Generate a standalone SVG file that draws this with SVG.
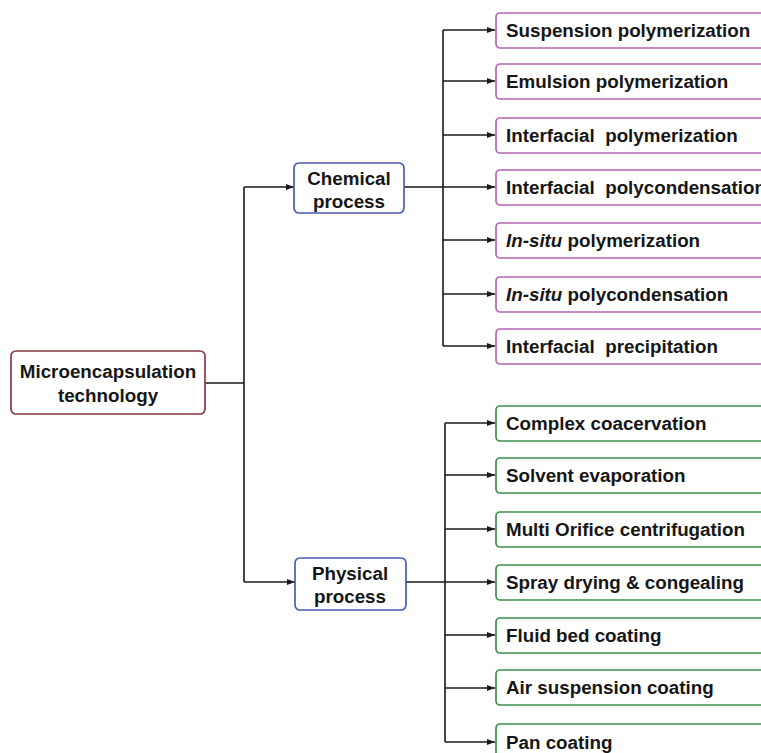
<svg xmlns="http://www.w3.org/2000/svg" width="761" height="753" viewBox="0 0 761 753">
<style>
text{font-family:"Liberation Sans",Arial,sans-serif;font-weight:bold;font-size:18.8px;fill:#161616;white-space:pre}
.c{text-anchor:middle}
.root{fill:#fff;stroke:#8a3a44;stroke-width:1.7}
.proc{fill:#fff;stroke:#4a5cb4;stroke-width:1.7}
.chem{fill:#fff;stroke:#b466b4;stroke-width:1.7}
.phys{fill:#fff;stroke:#3e8e4e;stroke-width:1.7}
.ln{fill:none;stroke:#1a1a1a;stroke-width:1.6}
</style>
<defs>
<marker id="ah" markerWidth="8" markerHeight="6" refX="8" refY="3" orient="auto" markerUnits="userSpaceOnUse">
<path d="M0,0 L8,3 L0,6 Z" fill="#1a1a1a"/>
</marker>
</defs>
<rect width="761" height="753" fill="#fff"/>
<g id="connectors">
<path class="ln" d="M205,383 H244 M244,187 V582"/>
<path class="ln" d="M244,187 H294" marker-end="url(#ah)"/>
<path class="ln" d="M244,582 H295" marker-end="url(#ah)"/>
<path class="ln" d="M404,187 H443 M443,30 V346"/>
<path class="ln" d="M443,30 H495" marker-end="url(#ah)"/>
<path class="ln" d="M443,81 H495" marker-end="url(#ah)"/>
<path class="ln" d="M443,135 H495" marker-end="url(#ah)"/>
<path class="ln" d="M443,187 H495" marker-end="url(#ah)"/>
<path class="ln" d="M443,240 H495" marker-end="url(#ah)"/>
<path class="ln" d="M443,294 H495" marker-end="url(#ah)"/>
<path class="ln" d="M443,346 H495" marker-end="url(#ah)"/>
<path class="ln" d="M406,582 H445 M445,423 V742"/>
<path class="ln" d="M445,423 H495" marker-end="url(#ah)"/>
<path class="ln" d="M445,475 H495" marker-end="url(#ah)"/>
<path class="ln" d="M445,529 H495" marker-end="url(#ah)"/>
<path class="ln" d="M445,582 H495" marker-end="url(#ah)"/>
<path class="ln" d="M445,635 H495" marker-end="url(#ah)"/>
<path class="ln" d="M445,688 H495" marker-end="url(#ah)"/>
<path class="ln" d="M445,742 H495" marker-end="url(#ah)"/>
</g>
<g id="root">
<rect class="root" x="11" y="351" width="194" height="63" rx="5"/>
<text class="c" x="108" y="378">Microencapsulation</text>
<text class="c" x="108" y="402">technology</text>
</g>
<g id="chemical">
<rect class="proc" x="294" y="163" width="110" height="50" rx="5"/>
<text class="c" x="349" y="185">Chemical</text>
<text class="c" x="349" y="208">process</text>
</g>
<g id="physical">
<rect class="proc" x="295" y="558" width="111" height="52" rx="5"/>
<text class="c" x="350" y="580">Physical</text>
<text class="c" x="350" y="603">process</text>
</g>
<g id="c1"><rect class="chem" x="496" y="13" width="280" height="35" rx="4"/><text x="506" y="37">Suspension polymerization</text></g>
<g id="c2"><rect class="chem" x="496" y="64" width="280" height="35" rx="4"/><text x="506" y="88">Emulsion polymerization</text></g>
<g id="c3"><rect class="chem" x="496" y="118" width="280" height="35" rx="4"/><text x="506" y="142">Interfacial  polymerization</text></g>
<g id="c4"><rect class="chem" x="496" y="170" width="280" height="35" rx="4"/><text x="506" y="194">Interfacial  polycondensation</text></g>
<g id="c5"><rect class="chem" x="496" y="223" width="280" height="35" rx="4"/><text x="506" y="247"><tspan font-style="italic">In-situ</tspan> polymerization</text></g>
<g id="c6"><rect class="chem" x="496" y="277" width="280" height="35" rx="4"/><text x="506" y="301"><tspan font-style="italic">In-situ</tspan> polycondensation</text></g>
<g id="c7"><rect class="chem" x="496" y="329" width="280" height="35" rx="4"/><text x="506" y="353">Interfacial  precipitation</text></g>
<g id="p1"><rect class="phys" x="496" y="406" width="280" height="35" rx="4"/><text x="506" y="430">Complex coacervation</text></g>
<g id="p2"><rect class="phys" x="496" y="458" width="280" height="35" rx="4"/><text x="506" y="482">Solvent evaporation</text></g>
<g id="p3"><rect class="phys" x="496" y="512" width="280" height="35" rx="4"/><text x="506" y="536">Multi Orifice centrifugation</text></g>
<g id="p4"><rect class="phys" x="496" y="565" width="280" height="35" rx="4"/><text x="506" y="589">Spray drying &amp; congealing</text></g>
<g id="p5"><rect class="phys" x="496" y="618" width="280" height="35" rx="4"/><text x="506" y="642">Fluid bed coating</text></g>
<g id="p6"><rect class="phys" x="496" y="670" width="280" height="35" rx="4"/><text x="506" y="694">Air suspension coating</text></g>
<g id="p7"><rect class="phys" x="496" y="724" width="280" height="35" rx="4"/><text x="506" y="749">Pan coating</text></g>
</svg>
